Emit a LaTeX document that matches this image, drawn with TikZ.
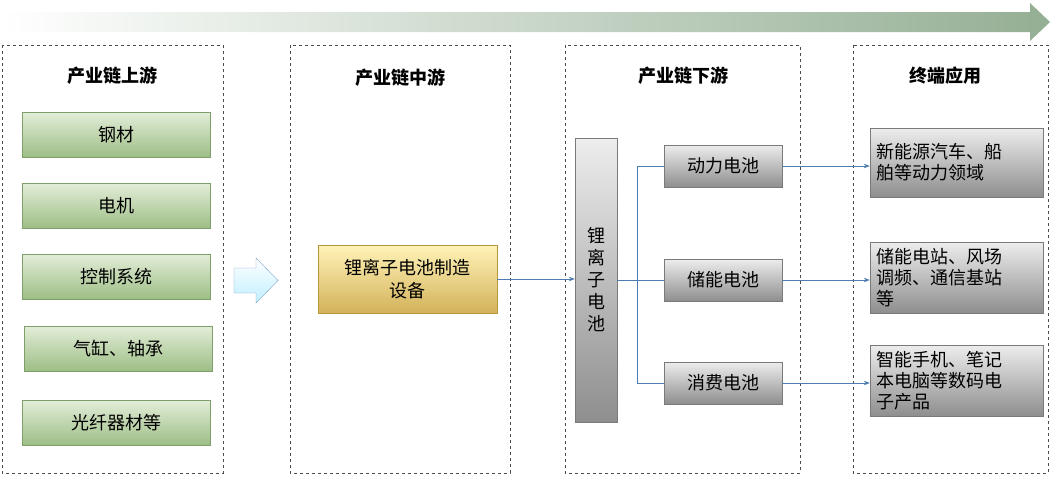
\documentclass[tikz,border=0pt]{standalone}
\usepackage{fontspec}
\setmainfont{Noto Sans CJK SC}
\usetikzlibrary{arrows.meta}
\definecolor{gborder}{HTML}{7F9F6A}
\definecolor{gtop}{HTML}{E3EDD8}
\definecolor{gbot}{HTML}{9DBE86}
\definecolor{ytop}{HTML}{FFF3B8}
\definecolor{ybot}{HTML}{D3B25A}
\definecolor{ytopb}{HTML}{B8963C}
\definecolor{ktop}{HTML}{EDEDED}
\definecolor{kbot}{HTML}{8E8E8E}
\definecolor{kborder}{HTML}{7A7A7A}
\definecolor{lineblue}{HTML}{4F7CB0}
\tikzset{
 col/.style={draw=black!70,dashed,line width=0.6pt},
 ttl/.style={font=\bfseries\fontsize{18}{20}\selectfont},
 gbox/.style={draw=gborder,top color=gtop,bottom color=gbot,font=\fontsize{18}{20}\selectfont},
 kbox/.style={draw=kborder,top color=ktop,bottom color=kbot,font=\fontsize{18}{21}\selectfont},
 conn/.style={draw=lineblue,line width=0.7pt},
 arr/.style={conn,-{Stealth[length=6pt]}},
}
\begin{document}
\begin{tikzpicture}[x=1pt,y=-1pt]
\useasboundingbox (0,0) rectangle (1053,477);
% top arrow
\shade[left color=white,right color=black!25!green!20!gray!70] (0,12) -- (1030,12) -- (1030,3) -- (1050,22) -- (1030,41) -- (1030,32) -- (0,32) -- cycle;
% columns
\draw[col] (2,45) rectangle (223,473);
\draw[col] (290,45) rectangle (510,473);
\draw[col] (565,45) rectangle (800,473);
\draw[col] (853,45) rectangle (1048,473);
\node[ttl] (t1) at (112,76) {产业链上游};
\node[ttl] (t2) at (400,78) {产业链中游};
\node[ttl] (t3) at (683,76) {产业链下游};
\node[ttl] (t4) at (945,76) {终端应用};
% green
\node[gbox,minimum width=188pt,minimum height=45pt] (g1) at (116,134.5) {钢材};
\node[gbox,minimum width=188pt,minimum height=45pt] (g2) at (116,205.5) {电机};
\node[gbox,minimum width=188pt,minimum height=45pt] (g3) at (116,276.5) {控制系统};
\node[gbox,minimum width=188pt,minimum height=45pt] (g4) at (118,348.5) {气缸、轴承};
\node[gbox,minimum width=188pt,minimum height=45pt] (g5) at (116,422.5) {光纤器材等};
% block arrow
\shade[draw=lineblue!70,top color=white,bottom color=blue!25!cyan!25] (234,268) -- (256,268) -- (256,258) -- (278,280.5) -- (256,303) -- (256,293) -- (234,293) -- cycle;
% gold
\node[draw=ytopb,top color=ytop,bottom color=ybot,minimum width=179pt,minimum height=68pt,align=center,font=\fontsize{18}{23}\selectfont] (m) at (407.5,279) {锂离子电池制造\\设备};
% vertical bar
\node[kbox,minimum width=42pt,minimum height=284pt,align=center,inner sep=0pt,font=\fontsize{18}{22}\selectfont] (v) at (596,280) {锂\\离\\子\\电\\池};
\node[kbox,minimum width=118pt,minimum height=42pt] (d1) at (723,166) {动力电池};
\node[kbox,minimum width=118pt,minimum height=42pt] (d2) at (723,280) {储能电池};
\node[kbox,minimum width=118pt,minimum height=42pt] (d3) at (723,383) {消费电池};
\node[kbox,minimum width=173pt,minimum height=69pt,align=left,text width=160pt,inner sep=4pt,inner xsep=6.5pt] (e1) at (956.5,162.5) {新能源汽车、船\\舶等动力领域};
\node[kbox,minimum width=173pt,minimum height=71pt,align=left,text width=160pt,inner sep=0.5pt,inner xsep=6.5pt] (e2) at (956.5,277.5) {储能电站、风场\\调频、通信基站\\等};
\node[kbox,minimum width=173pt,minimum height=71pt,align=left,text width=160pt,inner sep=0.5pt,inner xsep=6.5pt] (e3) at (956.5,380.5) {智能手机、笔记\\本电脑等数码电\\子产品};
% connectors
\draw[arr] (m.east) -- (m.east -| v.west);
\coordinate (j1) at (637,166);
\coordinate (j3) at (637,383);
\draw[conn] (v.east |- d2.west) -- (d2.west);
\draw[conn] (d1.west) -- (j1) -- (j3) -- (d3.west);
\draw[arr] (d1.east) -- (d1.east -| e1.west);
\draw[arr] (d2.east) -- (d2.east -| e2.west);
\draw[arr] (d3.east) -- (d3.east -| e3.west);
\end{tikzpicture}
\end{document}
